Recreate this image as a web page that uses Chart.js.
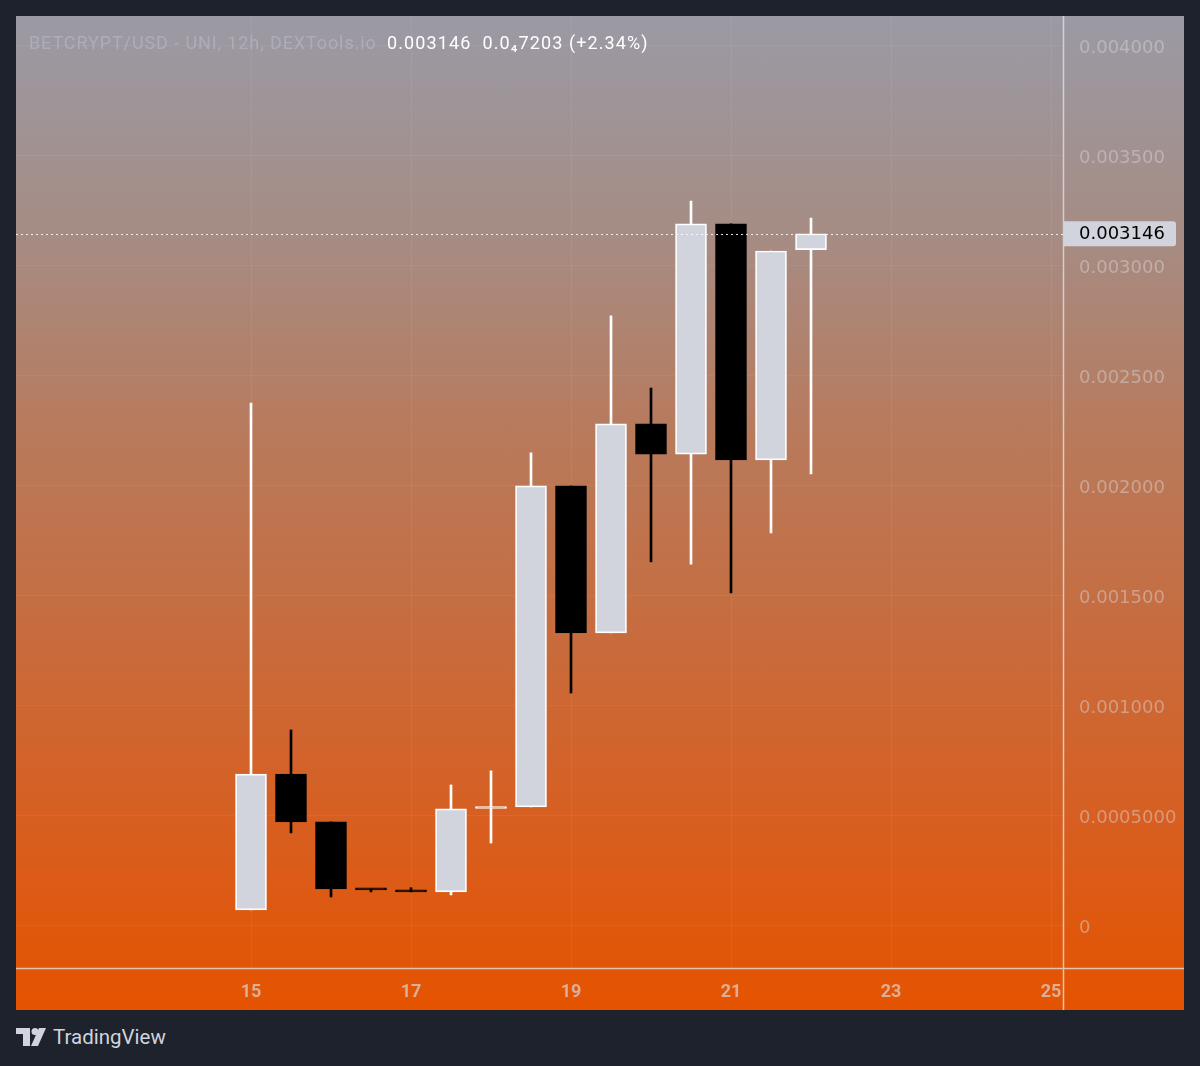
<!DOCTYPE html>
<html>
<head>
<meta charset="utf-8">
<script src="https://cdn.jsdelivr.net/npm/chart.js@4.4.1/dist/chart.umd.min.js"></script>
<style>
  html, body { margin: 0; padding: 0; background: #1e222d; }
  body { width: 1200px; height: 1066px; position: relative; overflow: hidden; font-family: Roboto, "Liberation Sans", sans-serif; }
  #panel {
    position: absolute; left: 16px; top: 16px; width: 1168px; height: 994px;
    background: linear-gradient(to bottom, #9a9aa5 0%, #a68c84 22%, #b87a5c 42%, #c76c3e 62%, #d85e1f 82%, #e55300 100%);
  }
  #header { position: absolute; left: 29px; top: 32px; font-size: 18px; letter-spacing: 0.9px; white-space: pre; }
  #header .sym { color: rgba(190, 190, 200, 0.55); }
  #header .val { color: #ffffff; margin-left: 5px; letter-spacing: 1.1px; }
  #logo { position: absolute; left: 16px; top: 1024px; height: 26px; display: flex; align-items: center; }
  #logo span { color: #d1d4dc; font-size: 20.5px; margin-left: 7px; }
</style>
</head>
<body>
<div id="panel"><canvas id="candleChart"></canvas></div>
<div id="header"><span class="sym">BETCRYPT/USD - UNI, 12h, DEXTools.io</span> <span class="val">0.003146  0.0₄7203 (+2.34%)</span></div>
<div id="logo">
  <svg width="30" height="18" viewBox="0 0 30 18">
    <path d="M0 0 H14 V18 H7 V6 H0 Z" fill="#d1d4dc"/>
    <circle cx="19" cy="3.5" r="3.5" fill="#d1d4dc"/>
    <path d="M23 0 H30 L22 18 H15 Z" fill="#d1d4dc"/>
  </svg>
  <span>TradingView</span>
</div>
<script>
// 12h candles, x in days of the month
const candleX = [15, 15.5, 16, 16.5, 17, 17.5, 18, 18.5, 19, 19.5, 20, 20.5, 21, 21.5, 22];
const openV  = [0.000073, 0.000690, 0.000473, 0.000168, 0.000164, 0.000155, 0.000534, 0.000541, 0.002000, 0.001332, 0.002282, 0.002145, 0.003191, 0.002118, 0.003074];
const closeV = [0.000690, 0.000473, 0.000168, 0.000164, 0.000155, 0.000532, 0.000538, 0.002000, 0.001332, 0.002282, 0.002145, 0.003191, 0.002118, 0.003068, 0.003146];
const highV  = [0.002377, 0.000891, 0.000473, 0.000168, 0.000174, 0.000641, 0.000705, 0.002150, 0.002000, 0.002773, 0.002445, 0.003295, 0.003191, 0.003068, 0.003218];
const lowV   = [0.000073, 0.000423, 0.000132, 0.000155, 0.000155, 0.000141, 0.000377, 0.000541, 0.001059, 0.001332, 0.001655, 0.001645, 0.001514, 0.001786, 0.002055];

const lastClose = 0.003146;
const lastCloseLabel = '0.003146';

const xTicks = [15, 17, 19, 21, 23, 25];
const xTickLabels = ['15', '17', '19', '21', '23', '25'];
const yTicks = [0, 0.0005, 0.001, 0.0015, 0.002, 0.0025, 0.003, 0.0035, 0.004];
const yTickLabels = ['0', '0.0005000', '0.001000', '0.001500', '0.002000', '0.002500', '0.003000', '0.003500', '0.004000'];

const UP_FILL = '#d1d4dc';
const isUp = i => closeV[i] >= openV[i];

const bodyData = candleX.map((x, i) => ({ x: x, y: [openV[i], closeV[i]] }));
const wickData = candleX.map((x, i) => ({ x: x, y: [lowV[i], highV[i]] }));

// no extra room for edge labels, the axes sit flush like on TradingView
function flush(axis) {
    axis.paddingTop = 0;
    axis.paddingBottom = 0;
    axis.paddingLeft = 0;
    axis.paddingRight = 0;
}

const framePlugin = {
    id: 'frame',
    afterDatasetsDraw(chart) {
        const { ctx, chartArea, scales } = chart;
        const py = Math.round(scales.y.getPixelForValue(lastClose)) + 0.5;
        ctx.save();
        // dotted last price line
        ctx.strokeStyle = 'rgba(255,255,255,0.85)';
        ctx.lineWidth = 1;
        ctx.setLineDash([2, 3]);
        ctx.beginPath();
        ctx.moveTo(chartArea.left, py);
        ctx.lineTo(chartArea.right, py);
        ctx.stroke();
        ctx.restore();
    },
    afterDraw(chart) {
        const { ctx, chartArea, scales, width, height } = chart;
        ctx.save();
        ctx.strokeStyle = 'rgba(225,222,225,0.8)';
        ctx.lineWidth = 1.5;
        ctx.beginPath();
        ctx.moveTo(0, chartArea.bottom + 0.5);
        ctx.lineTo(width, chartArea.bottom + 0.5);
        ctx.moveTo(chartArea.right + 0.5, 0);
        ctx.lineTo(chartArea.right + 0.5, height);
        ctx.stroke();

        // last price label
        const py = scales.y.getPixelForValue(lastClose);
        const bx = chartArea.right + 1, bw = 112, bh = 25;
        ctx.fillStyle = UP_FILL;
        ctx.beginPath();
        ctx.roundRect(bx, py - bh / 2, bw, bh, [0, 3, 3, 0]);
        ctx.fill();
        ctx.fillStyle = '#000000';
        ctx.font = '18px "DejaVu Sans"';
        ctx.textBaseline = 'middle';
        ctx.fillText(lastCloseLabel, chartArea.right + 16, py + 1);
        ctx.restore();
    }
};

const ctx = document.getElementById('candleChart').getContext('2d');
new Chart(ctx, {
    type: 'bar',
    data: {
        datasets: [
            {
                label: 'body',
                data: bodyData,
                grouped: false,
                order: 0,
                barThickness: 31,
                minBarLength: 2,
                borderSkipped: false,
                borderWidth: 1.7,
                backgroundColor: c => isUp(c.dataIndex) ? UP_FILL : '#000000',
                borderColor: c => isUp(c.dataIndex) ? '#ffffff' : '#000000'
            },
            {
                label: 'wick',
                data: wickData,
                grouped: false,
                order: 1,
                barThickness: 2,
                borderWidth: 0,
                backgroundColor: c => isUp(c.dataIndex) ? '#ffffff' : '#000000'
            }
        ]
    },
    options: {
        responsive: true,
        maintainAspectRatio: false,
        animation: false,
        events: [],
        layout: { padding: 0 },
        plugins: {
            legend: { display: false },
            tooltip: { enabled: false }
        },
        scales: {
            x: {
                type: 'linear',
                offset: false,
                min: 12.0625,
                max: 25.15,
                afterBuildTicks: axis => { axis.ticks = xTicks.map(v => ({ value: v })); },
                afterFit: axis => { axis.height = 42; flush(axis); },
                border: { display: false },
                grid: { color: 'rgba(255,255,255,0.06)', drawTicks: false, offset: false },
                ticks: {
                    padding: 14,
                    maxRotation: 0,
                    autoSkip: false,
                    color: 'rgba(215,205,205,0.75)',
                    font: { family: '"Liberation Sans Narrow", Roboto', size: 18, weight: 'bold' },
                    callback: v => xTickLabels[xTicks.indexOf(v)]
                }
            },
            y: {
                type: 'linear',
                position: 'right',
                min: -0.000191,
                max: 0.004136,
                afterBuildTicks: axis => { axis.ticks = yTicks.map(v => ({ value: v })); },
                afterFit: axis => { axis.width = 121; flush(axis); },
                border: { display: false },
                grid: { color: 'rgba(255,255,255,0.06)', drawTicks: false },
                ticks: {
                    padding: 16,
                    labelOffset: 2,
                    color: 'rgba(215,212,215,0.5)',
                    font: { family: '"DejaVu Sans"', size: 18 },
                    callback: v => yTickLabels[yTicks.indexOf(v)]
                }
            }
        }
    },
    plugins: [framePlugin]
});
</script>
</body>
</html>
